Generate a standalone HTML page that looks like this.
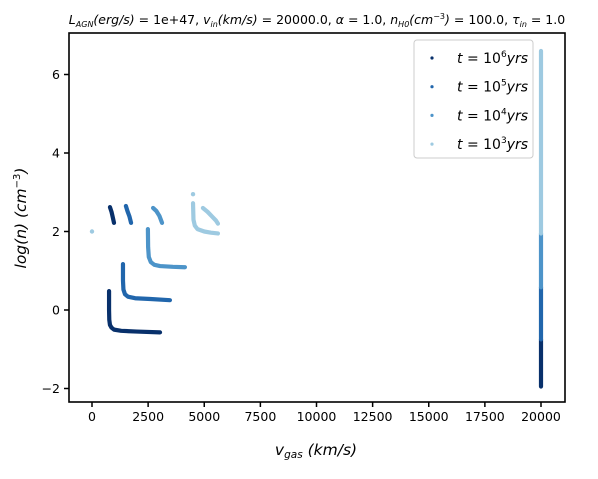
<!DOCTYPE html>
<html><head><meta charset="utf-8"><style>
body{margin:0;background:#fff;width:598px;height:474px;overflow:hidden}
svg{font-family:"DejaVu Sans","Liberation Sans",sans-serif}
</style></head><body>
<svg id="c" width="598" height="474">
<text x="317" y="24" text-anchor="middle" font-size="12.5"><tspan font-style="italic">L</tspan><tspan font-style="italic" font-size="8" dy="3">AGN</tspan><tspan dy="-3" font-style="italic">(erg/s)</tspan> = 1e+47, <tspan font-style="italic">v</tspan><tspan font-style="italic" font-size="8" dy="3">in</tspan><tspan dy="-3" font-style="italic">(km/s)</tspan> = 20000.0, <tspan font-style="italic">α</tspan> = 1.0, <tspan font-style="italic">n</tspan><tspan font-style="italic" font-size="8" dy="3">H0</tspan><tspan dy="-3" font-style="italic">(cm</tspan><tspan font-size="8" dy="-5">−3</tspan><tspan dy="5" font-style="italic">)</tspan> = 100.0, <tspan font-style="italic">τ</tspan><tspan font-style="italic" font-size="8" dy="3">in</tspan><tspan dy="-3"> = 1.0</tspan></text>
<g id="marks"></g>
<rect x="69" y="33" width="496" height="369" fill="none" stroke="#000" stroke-width="1.6"/>
<g id="axes" font-size="12.5"></g>
<text x="316" y="455" text-anchor="middle" font-size="15.5" font-style="italic">v<tspan font-size="10.5" dy="3">gas</tspan><tspan dy="-3">    (km/s)</tspan></text>
<text transform="translate(26,218) rotate(-90)" text-anchor="middle" font-size="15.5" font-style="italic">log(n)    (cm<tspan font-size="10" dy="-6" font-style="normal">−3</tspan><tspan dy="6">)</tspan></text>
<g>
<rect x="414" y="40" width="119" height="118" rx="3" fill="#fff" fill-opacity="0.8" stroke="#ccc"/>
<g id="leg" font-size="14" font-style="italic"></g>
</g>
</svg>
<script>
const xTicks=[0,2500,5000,7500,10000,12500,15000,17500,20000];
const yTicks=[-2,0,2,4,6];
const seriesLabels=["6","5","4","3"];
const colors=["#08306b","#2166ac","#4d94c9","#9ecae1"];
const s1e6=[[[800,2.62],[870,2.5],[930,2.35],[980,2.22]],[[760,0.48],[760,0.0],[770,-0.25],[800,-0.38],[870,-0.45],[980,-0.5],[1300,-0.53],[2000,-0.55],[3030,-0.57]],[[20000,-1.95],[20000,-0.75]]];
const s1e5=[[[1510,2.65],[1580,2.52],[1670,2.38],[1740,2.22]],[[1380,1.17],[1380,0.75],[1400,0.52],[1470,0.4],[1600,0.34],[1920,0.3],[2600,0.28],[3470,0.25]],[[20000,-0.75],[20000,0.58]]];
const s1e4=[[[2720,2.6],[2870,2.52],[3000,2.4],[3120,2.22]],[[2490,2.06],[2500,1.6],[2530,1.35],[2620,1.22],[2780,1.15],[3030,1.12],[3600,1.1],[4140,1.09]],[[20000,0.58],[20000,1.95]]];
const s1e3=[[[0,2.0]],[[4500,2.95]],[[4500,2.72],[4520,2.3],[4580,2.15],[4700,2.06],[5000,2.0],[5300,1.97],[5610,1.95]],[[4940,2.6],[5150,2.5],[5350,2.38],[5520,2.28],[5610,2.2]],[[20000,1.95],[20000,6.6]]];
const allSeries=[s1e6,s1e5,s1e4,s1e3];
const X=v=>92+v*0.02245, Y=n=>310-n*39.25;
const NS="http://www.w3.org/2000/svg";
const marks=document.getElementById('marks'),axes=document.getElementById('axes'),leg=document.getElementById('leg');
allSeries.forEach((ser,si)=>{
 ser.forEach((curve,ci)=>{
  let el;
  if(curve.length===1){el=document.createElementNS(NS,'circle');el.setAttribute('cx',X(curve[0][0]));el.setAttribute('cy',Y(curve[0][1]));el.setAttribute('r',2.2);el.setAttribute('fill',colors[si]);}
  else{el=document.createElementNS(NS,'polyline');el.setAttribute('points',curve.map(p=>X(p[0])+','+Y(p[1])).join(' '));el.setAttribute('fill','none');el.setAttribute('stroke',colors[si]);el.setAttribute('stroke-width',4.2);el.setAttribute('stroke-linecap','round');el.setAttribute('stroke-linejoin','round');}
  
  
  marks.appendChild(el);
 });
});
xTicks.forEach(t=>{
 const l=document.createElementNS(NS,'line');l.setAttribute('x1',X(t));l.setAttribute('x2',X(t));l.setAttribute('y1',402);l.setAttribute('y2',407);l.setAttribute('stroke','#000');l.setAttribute('stroke-width',1.5);
 
 
 axes.appendChild(l);
 const tx=document.createElementNS(NS,'text');tx.setAttribute('x',X(t));tx.setAttribute('y',421);tx.setAttribute('text-anchor','middle');tx.textContent=t;
 
 
 axes.appendChild(tx);
});
yTicks.forEach(t=>{
 const l=document.createElementNS(NS,'line');l.setAttribute('x1',64);l.setAttribute('x2',69);l.setAttribute('y1',Y(t));l.setAttribute('y2',Y(t));l.setAttribute('stroke','#000');l.setAttribute('stroke-width',1.5);
 
 
 axes.appendChild(l);
 const tx=document.createElementNS(NS,'text');tx.setAttribute('x',60);tx.setAttribute('y',Y(t)+4.5);tx.setAttribute('text-anchor','end');tx.textContent=(t<0?'−'+(-t):t);
 
 
 axes.appendChild(tx);
});
seriesLabels.forEach((s,i)=>{
 const y=58+i*28.7;
 const c=document.createElementNS(NS,'circle');c.setAttribute('cx',432);c.setAttribute('cy',y);c.setAttribute('r',1.6);c.setAttribute('fill',colors[i]);
 
 
 leg.appendChild(c);
 const t=document.createElementNS(NS,'text');t.setAttribute('x',457);t.setAttribute('y',y+5);
 t.innerHTML='t<tspan font-style="normal"> = 10</tspan><tspan font-size="9" dy="-6" font-style="normal">'+s+'</tspan><tspan dy="6">yrs</tspan>';
 
 
 leg.appendChild(t);
});
</script>
</body></html>
